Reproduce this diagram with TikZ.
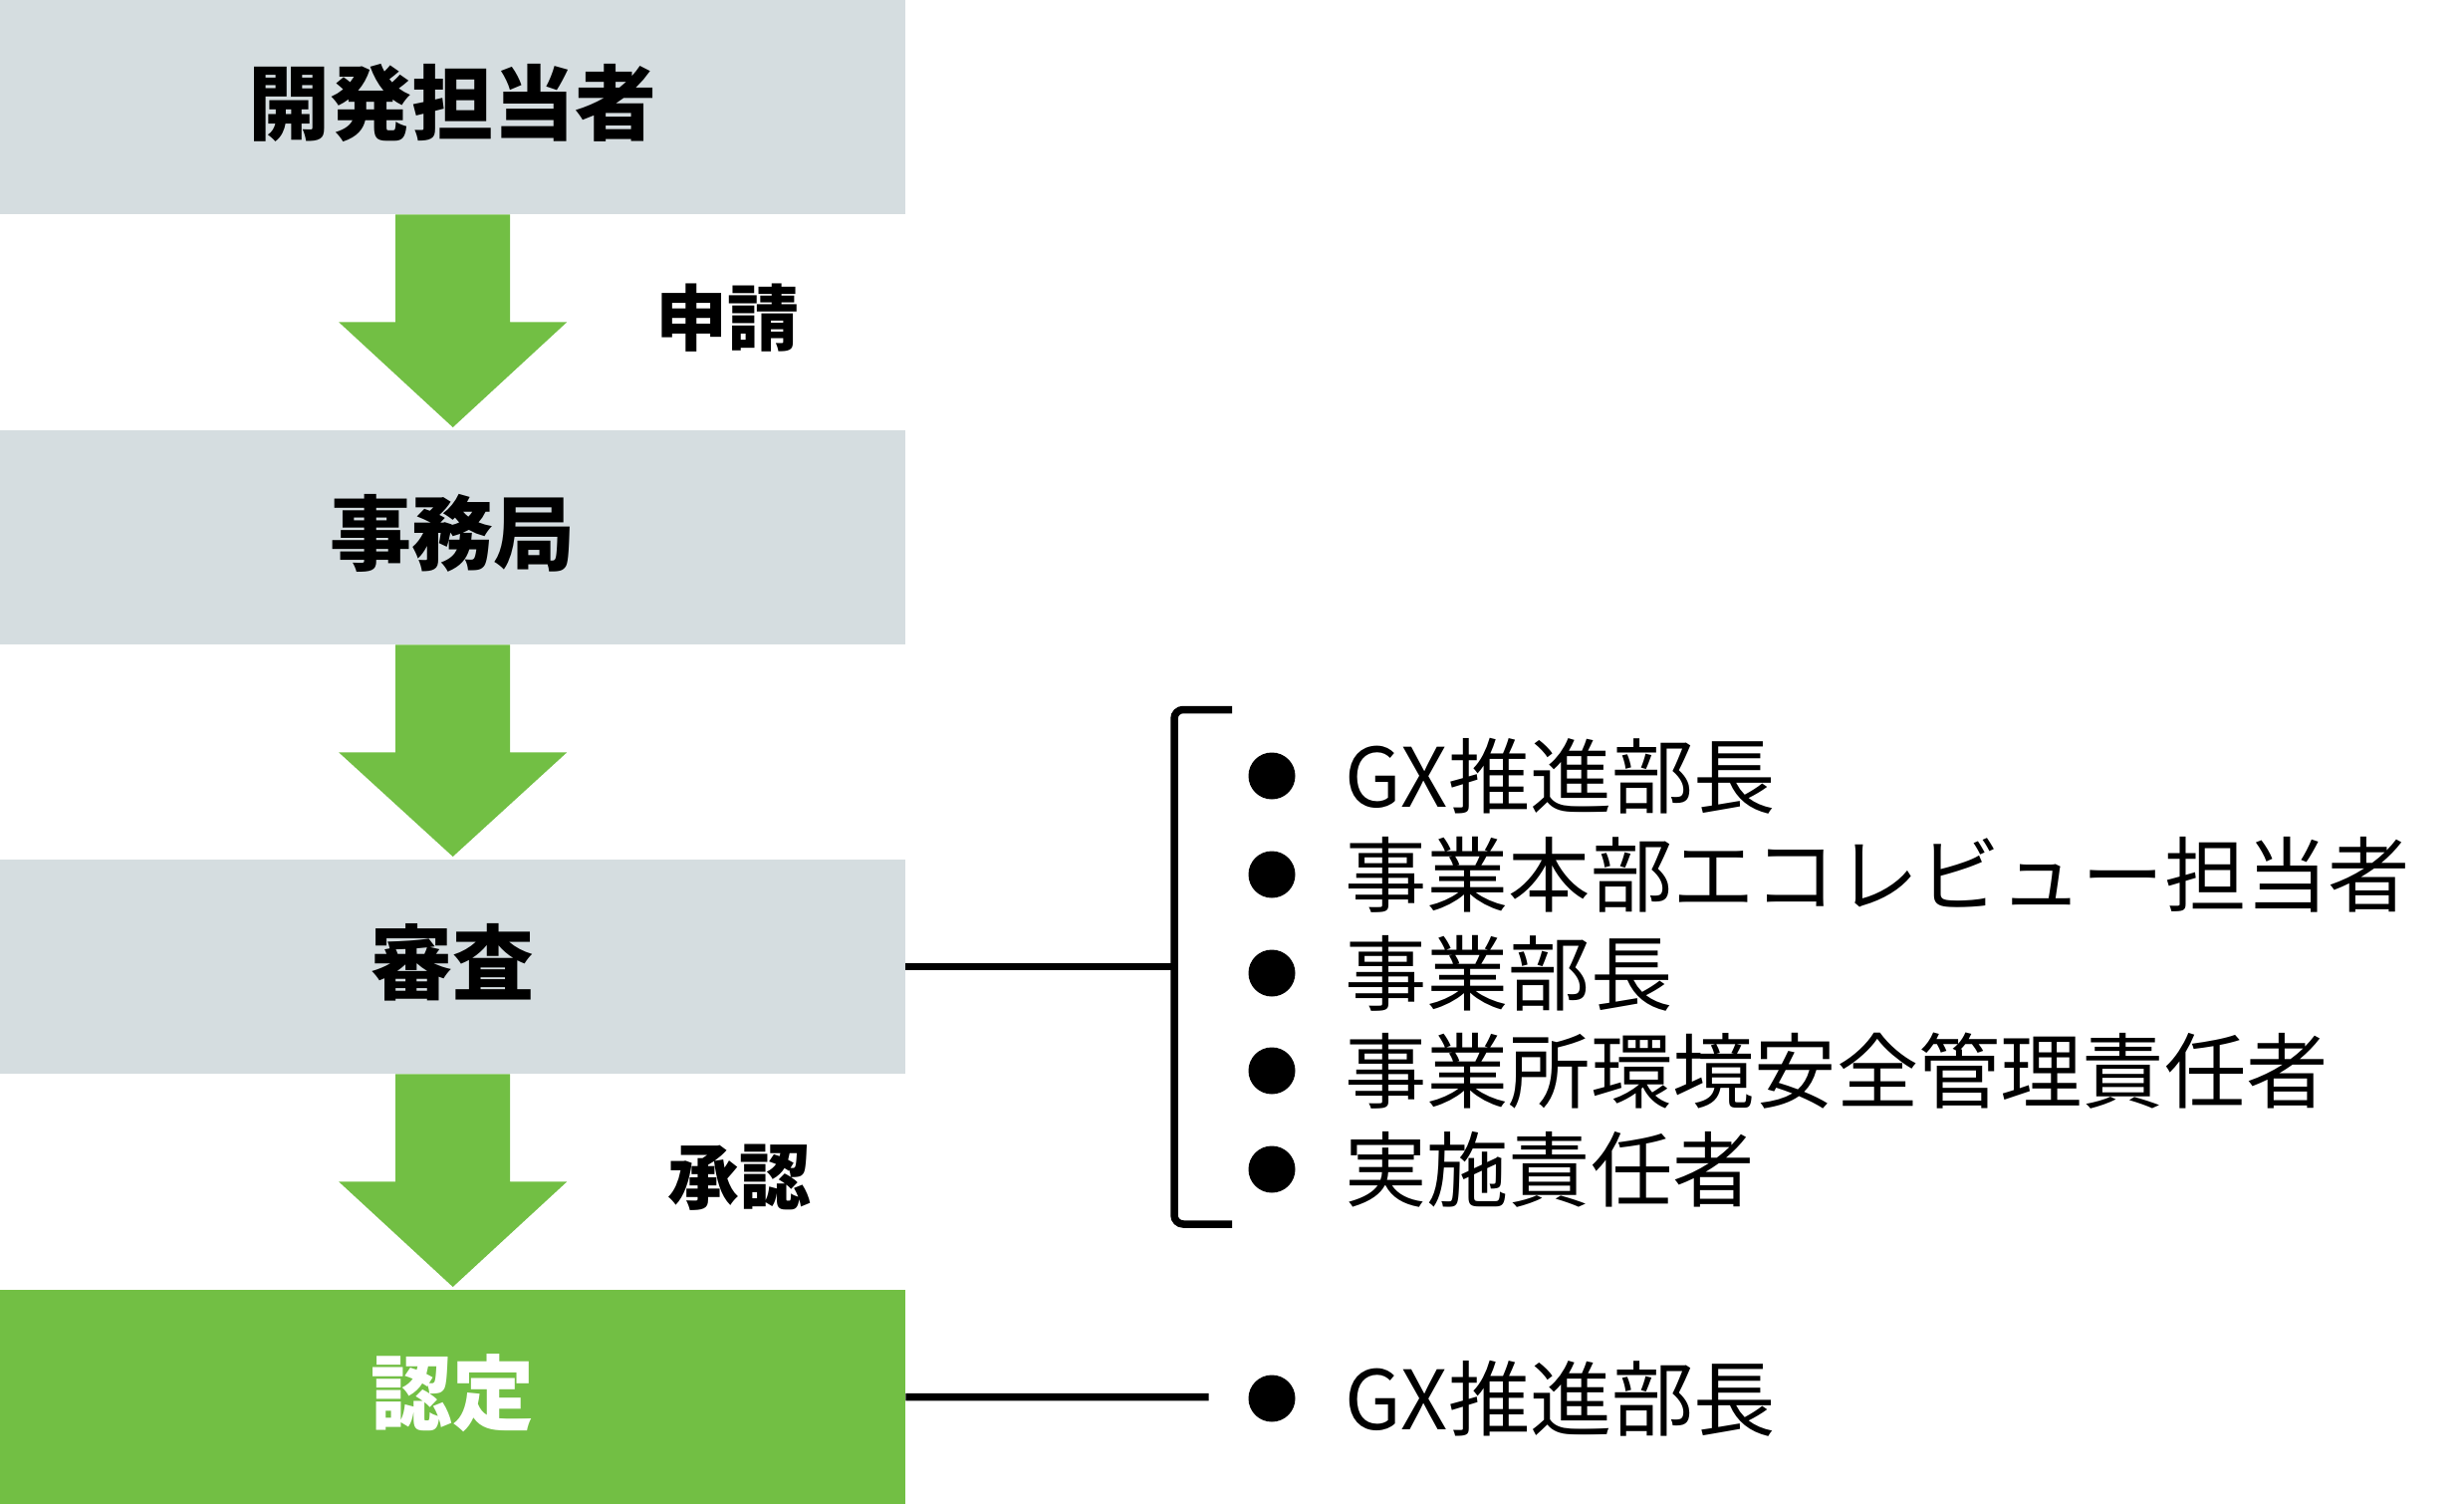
\documentclass[tikz,border=0pt]{standalone}
\usepackage{fontspec}
\setmainfont{Noto Sans CJK JP}
\usetikzlibrary{calc}
\definecolor{boxgray}{HTML}{D5DDE0}
\definecolor{flowgreen}{HTML}{72BF44}
\newcommand\flowarrowdraw[2]{%
  \fill[flowgreen] ($(#1.south)+(-57.5,0)$) -- ($(#1.south)+(57.5,0)$)
    -- ($(#1.south)+(57.5,108)$) -- ($(#1.south)+(114.5,108)$)
    -- ($(#2.north)+(0,-3)$)
    -- ($(#1.south)+(-114.5,108)$) -- ($(#1.south)+(-57.5,108)$) -- cycle;}
\begin{document}
\begin{tikzpicture}[x=1pt,y=-1pt,
  stagebox/.style={rectangle, fill=boxgray, minimum width=909pt, minimum height=215pt,
    inner sep=0pt, anchor=north west, font=\fontsize{82}{82}\selectfont\bfseries,
    text height=53pt, text depth=0pt},
  steplabel/.style={anchor=base, inner sep=0pt, font=\fontsize{72}{72}\selectfont\bfseries},
  bulletdot/.style={circle, fill=black, minimum size=47pt, inner sep=0pt},
  listtext/.style={anchor=base west, inner sep=0pt, font=\fontsize{82.3}{82.3}\selectfont},
  conn/.style={draw=black, line width=7.5pt}]
\useasboundingbox (0,0) rectangle (2474,1510);

\node[stagebox] (b1) at (0,0) {開発担当者};
\node[stagebox] (b2) at (0,432) {事務局};
\node[stagebox] (b3) at (0,863) {審査};
\node[stagebox, fill=flowgreen, text=white] (b4) at (0,1295) {認定};

\flowarrowdraw{b1}{b2}
\flowarrowdraw{b2}{b3}
\flowarrowdraw{b3}{b4}

\node[steplabel] (lab1) at (730,346) {申請};
\node[steplabel] (lab2) at (742,1208) {承認};

% bracket
\coordinate (brx) at (1179,0);
\coordinate (brtop) at (1237,712.5);
\coordinate (brbot) at (1237,1229);
\draw[conn, rounded corners=9pt] (brtop) -- (brtop -| brx) -- (brbot -| brx) -- (brbot);
\draw[conn] (b3.east) -- (b3.east -| brx);

\node[bulletdot] (d1) at (1277,779) {};
\node[bulletdot] (d2) at (1277,878) {};
\node[bulletdot] (d3) at (1277,977) {};
\node[bulletdot] (d4) at (1277,1075) {};
\node[bulletdot] (d5) at (1277,1174) {};
\node[listtext] (t1) at (1350,810) {GX推進部長};
\node[listtext] (t2) at (1350,909) {事業本部エコレビュー担当者};
\node[listtext] (t3) at (1350,1008) {事業部長};
\node[listtext] (t4) at (1350,1106) {事業所環境安全管理責任者};
\node[listtext] (t5) at (1350,1205) {実施責任者};

\coordinate (endline) at (1213.5,1402.5);
\draw[conn] (b4.east) -- (endline);
\node[bulletdot] (d6) at (1277,1404) {};
\node[listtext] (t6) at (1350,1435) {GX推進部長};
\end{tikzpicture}
\end{document}
